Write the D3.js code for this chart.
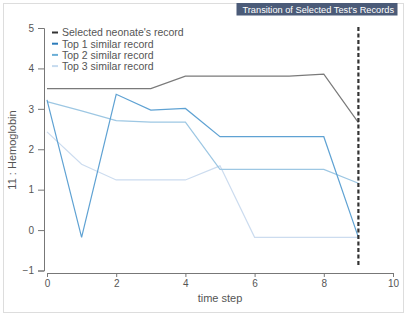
<!DOCTYPE html>
<html><head><meta charset="utf-8">
<script src="https://cdn.jsdelivr.net/npm/d3@7"></script>
<style>
body{margin:0;background:#fff;}
svg{display:block;font-family:"Liberation Sans",Arial,Helvetica,sans-serif;}
</style></head>
<body><svg id="c" width="407" height="318"></svg>
<script>
const timeSteps = [0,1,2,3,4,5,6,7,8,9];
const selectedRecord = [3.5,3.5,3.5,3.5,3.81,3.81,3.81,3.81,3.86,2.66];
const top1Record = [3.22,-0.18,3.36,2.97,3.01,2.31,2.31,2.31,2.31,-0.18];
const top2Record = [3.18,2.95,2.71,2.67,2.67,1.5,1.5,1.5,1.5,1.16];
const top3Record = [2.43,1.63,1.24,1.24,1.24,1.59,-0.18,-0.18,-0.18,-0.18];
const seriesNames = ["Selected neonate's record","Top 1 similar record","Top 2 similar record","Top 3 similar record"];
const legendColors = ["#333333","#2b7bba","#6baed6","#c6dbef"];
const lineColors = ["#7a7a7a","#5fa2d3","#9dc7e3","#ccdcef"];
const xTicks = [0,2,4,6,8,10];
const yTicks = [-1,0,1,2,3,4,5];
const currentStep = 9;
const titleText = "Transition of Selected Test's Records";

const svg = d3.select("#c");
svg.append("rect").attr("x",3.5).attr("y",3.5).attr("width",400).attr("height",309)
  .attr("fill","none").attr("stroke","#dddddd");

const x = d3.scaleLinear().domain([0,10]).range([47,393]);
const y = d3.scaleLinear().domain([-1,5]).range([270.5,28]);

// title
const tg = svg.append("g");
tg.append("rect").attr("x",236.5).attr("y",3).attr("width",161).attr("height",12.5).attr("fill","#4b5b78");
tg.append("text").attr("x",242.5).attr("y",12.6).attr("fill","#fff")
  .attr("font-size",9.6).attr("textLength",151.5).attr("lengthAdjust","spacingAndGlyphs").text(titleText);

// axes
const yAx = svg.append("g").attr("transform","translate(44,0)")
  .call(d3.axisLeft(y).tickValues(yTicks).tickSize(6).tickPadding(4).tickFormat(d3.format("d")));
const xAx = svg.append("g").attr("transform","translate(0,273)")
  .call(d3.axisBottom(x).tickValues(xTicks).tickSize(4).tickPadding(3).tickFormat(d3.format("d")));
[yAx,xAx].forEach(g=>{
  g.selectAll("path,line").attr("stroke","#777");
  g.selectAll("text").attr("fill","#555").attr("font-size",10).attr("font-family","Liberation Sans,Arial,sans-serif");
});

svg.append("text").attr("transform","translate(15.5,150) rotate(-90)").attr("text-anchor","middle")
  .attr("fill","#555").attr("font-size",11).text("11 : Hemoglobin");
svg.append("text").attr("x",220).attr("y",302).attr("text-anchor","middle")
  .attr("fill","#555").attr("font-size",11).text("time step");

// lines
const line = d3.line().x((d,i)=>x(timeSteps[i])).y(d=>y(d));
const series = [selectedRecord, top1Record, top2Record, top3Record];
[3,2,1,0].forEach(k=>{
  svg.append("path").datum(series[k]).attr("d",line).attr("fill","none")
    .attr("stroke",lineColors[k]).attr("stroke-width",1.2);
});

// current step dashed line
svg.append("line").attr("x1",x(currentStep)).attr("x2",x(currentStep))
  .attr("y1",y(5)-1).attr("y2",y(-1)-3)
  .attr("stroke","#333").attr("stroke-width",2.2).attr("stroke-dasharray","4,2.5");

// legend
const lg = svg.append("g");
seriesNames.forEach((n,i)=>{
  const yy = 32.5 + i*11.2;
  lg.append("line").attr("x1",52).attr("x2",58).attr("y1",yy).attr("y2",yy)
    .attr("stroke",legendColors[i]).attr("stroke-width",2);
  lg.append("text").attr("x",62).attr("y",yy+3.8).attr("fill","#555").attr("font-size",10.5).text(n);
});
</script></body></html>
